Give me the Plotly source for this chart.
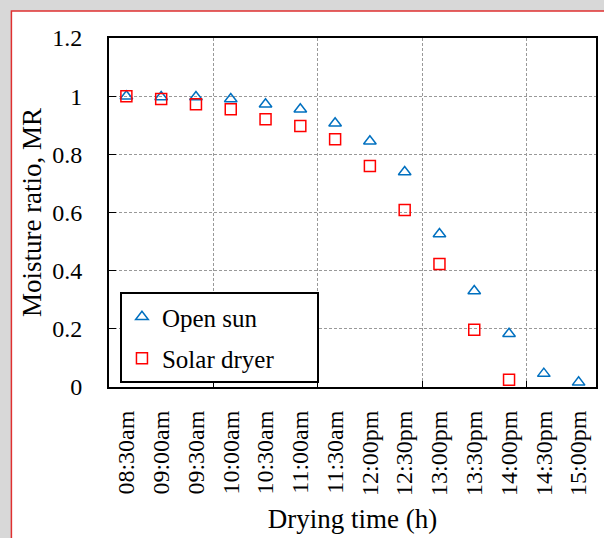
import plotly.graph_objects as go

times = ["08:30am", "09:00am", "09:30am", "10:00am", "10:30am", "11:00am", "11:30am",
         "12:00pm", "12:30pm", "13:00pm", "13:30pm", "14:00pm", "14:30pm", "15:00pm"]
open_sun = [1.0, 0.997, 0.997, 0.99, 0.972, 0.955, 0.907, 0.845, 0.739, 0.526, 0.33, 0.183, 0.046, 0.016]
solar_dryer = [1.0, 0.99, 0.972, 0.955, 0.921, 0.897, 0.852, 0.76, 0.609, 0.423, 0.197, 0.025]
y_ticks = [0, 0.2, 0.4, 0.6, 0.8, 1, 1.2]
y_ticklabels = ["0", "0.2", "0.4", "0.6", "0.8", "1", "1.2"]

FONT = "Liberation Serif"
idx = list(range(len(times)))
PAD = "\u00a0" * 6

fig = go.Figure()
fig.add_trace(go.Scatter(
    x=idx, y=open_sun, mode="markers", name="Open sun", legendgroup="a",
    marker=dict(symbol="triangle-up-open", size=11, color="#0070c0", line=dict(width=1.5, color="#0070c0")),
))
fig.add_trace(go.Scatter(
    x=idx[:len(solar_dryer)], y=solar_dryer, mode="markers", name="Solar dryer" + PAD, legendgroup="b",
    marker=dict(symbol="square-open", size=11, color="#ff0000", line=dict(width=1.5, color="#ff0000")),
))

fig.update_layout(
    width=604, height=538,
    margin=dict(l=109, r=6, t=38, b=151),
    paper_bgcolor="#d8d8d8",
    plot_bgcolor="white",
    font=dict(family=FONT, size=24, color="black"),
    showlegend=True,
    legend=dict(
        x=0.0225, y=0.272, xanchor="left", yanchor="top",
        bgcolor="white", bordercolor="black", borderwidth=2,
        font=dict(family=FONT, size=25, color="black"),
        tracegroupgap=6, traceorder="grouped",
    ),
    shapes=[dict(
        type="rect", xref="paper", yref="paper", layer="below",
        x0=-0.2004, x1=1.2, y0=-0.8, y1=1.0774,
        fillcolor="white", line=dict(color="#e03030", width=1.5),
    )],
)

fig.update_xaxes(
    range=[-0.5, 13.5],
    tickmode="array", tickvals=idx, ticktext=times, tickangle=-90,
    tickfont=dict(family=FONT, size=24),
    showgrid=False, ticks="", zeroline=False,
    showline=True, linecolor="black", linewidth=2, mirror=True,
    ticklabelstandoff=12,
    title=dict(text="Drying time (h)", font=dict(family=FONT, size=27), standoff=14),
    minor=dict(tickmode="array", tickvals=[2.5, 5.5, 8.5, 11.5], showgrid=True,
               gridcolor="#999999", griddash="3px,2px", gridwidth=1,
               ticks="inside", ticklen=6, tickcolor="black"),
)
fig.update_yaxes(
    range=[0, 1.2], tickmode="array", tickvals=y_ticks, ticktext=y_ticklabels,
    tickfont=dict(family=FONT, size=24),
    showgrid=True, gridcolor="#999999", griddash="3px,2px", gridwidth=1,
    ticks="inside", ticklen=7, tickcolor="black", zeroline=False,
    showline=True, linecolor="black", linewidth=2, mirror=True,
    ticklabelstandoff=20,
    title=dict(text="Moisture ratio, MR", font=dict(family=FONT, size=27), standoff=3),
)

fig.write_html("out.html", config={"displayModeBar": False},
               post_script="document.body.style.margin='0';")
